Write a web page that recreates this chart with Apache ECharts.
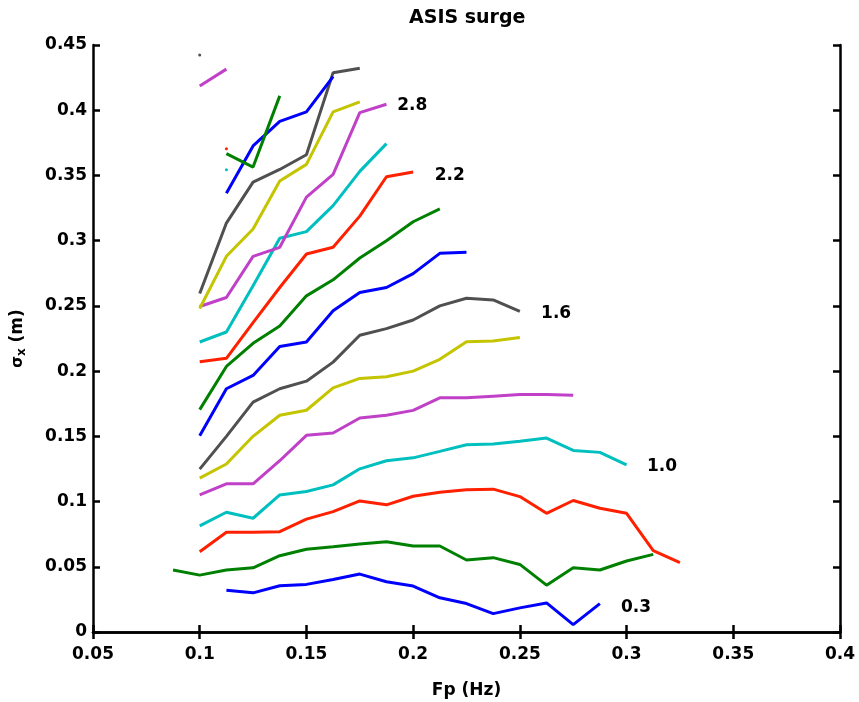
<!DOCTYPE html>
<html>
<head>
<meta charset="utf-8">
<script src="https://cdn.jsdelivr.net/npm/echarts@6/dist/echarts.min.js"></script>
<style>html,body{margin:0;padding:0;background:#fff;}#c{width:859px;height:702px;}</style>
</head>
<body>
<div id="c"></div>
<script>
// Frequency grid (Hz)
const fp = [0.0875,0.1,0.1125,0.125,0.1375,0.15,0.1625,0.175,0.1875,0.2,0.2125,0.225,0.2375,0.25,0.2625,0.275,0.2875,0.3,0.3125,0.325];

// sigma_x values (m), aligned with fp (null = no value)
const s01 = [null,null,0.032,0.030,0.0354,0.0365,0.0403,0.0444,0.0385,0.0352,0.0262,0.0218,0.0141,0.0185,0.0223,0.0057,0.0218];
const s02 = [0.0475,0.0436,0.0475,0.0492,0.0585,0.0634,0.0654,0.0675,0.0692,0.0659,0.0659,0.0552,0.057,0.0518,0.0359,0.0492,0.0475,0.0544,0.0595];
const s03 = [null,0.0615,0.0765,0.0765,0.0769,0.0865,0.0923,0.1005,0.0975,0.1041,0.1072,0.109,0.1095,0.1038,0.091,0.1008,0.0949,0.091,0.0623,0.0531];
const s04 = [null,0.0813,0.0918,0.0872,0.1051,0.1077,0.1128,0.1251,0.1313,0.1335,0.1385,0.1436,0.1441,0.1462,0.1487,0.1392,0.1377,0.1282];
const s05 = [null,0.1051,0.1136,0.1136,0.1313,0.1508,0.1526,0.1641,0.1662,0.1699,0.1795,0.1795,0.1808,0.1821,0.1821,0.1815];
const s06 = [null,0.118,0.1288,0.15,0.1662,0.17,0.1872,0.1944,0.1957,0.2,0.209,0.2226,0.2231,0.2257];
const s07 = [null,0.1249,0.15,0.1762,0.1865,0.1923,0.2069,0.2275,0.2326,0.2392,0.25,0.2559,0.2546,0.2457];
const s08 = [null,0.1505,0.1865,0.1967,0.2188,0.2223,0.2462,0.2603,0.2641,0.2747,0.2903,0.2911];
const s09 = [null,0.1705,0.2036,0.2213,0.2346,0.2577,0.27,0.2867,0.3,0.3145,0.3244];
const s10 = [null,0.2072,0.2098,0.2372,0.2641,0.2898,0.2949,0.3188,0.349,0.3526];
const s11 = [null,0.2223,0.23,0.2654,0.3018,0.3069,0.3269,0.3531,0.3744];
const s12 = [null,0.2495,0.2564,0.288,0.2949,0.3334,0.3508,0.3982,0.4046];
const s13 = [null,0.248,0.288,0.309,0.3457,0.3585,0.3987,0.4064];
const s14 = [null,0.2595,0.3135,0.3449,0.3546,0.3659,0.4288,0.4321];
const s15 = [null,null,0.3364,0.3726,0.3915,0.3987,0.4257];
const s16 = [null,null,0.3667,0.3564,0.411];
const s17 = [null,null,0.3705];
const s18 = [null,null,0.3544];
const s19 = [null,0.4185,0.4315];
const s20 = [];
const s21 = [null,0.4423];

const seriesValues = [s01,s02,s03,s04,s05,s06,s07,s08,s09,s10,s11,s12,s13,s14,s15,s16,s17,s18,s19,s20,s21];

// Curve labels
const labelText = ['0.3','1.0','1.6','2.2','2.8'];
const labelX = [0.3044,0.3166,0.2670,0.2172,0.1996];
const labelY = [0.019,0.127,0.2444,0.350,0.4038];

// Axis ticks
const xTicks = {min:0.05, max:0.4, step:0.05};
const yTicks = {min:0, max:0.45, step:0.05};

const palette = ['#0000FF','#008000','#FF2000','#00BFBF','#C040C8','#C4C400','#505050'];
const FONT = 'DejaVu Sans';

const series = seriesValues.map((vals, i) => {
  const data = [];
  vals.forEach((v, j) => { if (v !== null && v !== undefined) data.push([fp[j], v]); });
  const single = data.length === 1;
  return {
    type: 'line',
    data: data,
    showSymbol: single,
    symbol: 'circle',
    symbolSize: 3,
    silent: true,
    animation: false,
    lineStyle: {color: palette[i % 7], width: 3},
    itemStyle: {color: palette[i % 7], borderWidth: 0}
  };
});

series.push({
  type: 'scatter',
  symbolSize: 0,
  silent: true,
  animation: false,
  itemStyle: {opacity: 1, color: '#000'},
  data: labelText.map((t, i) => ({value: [labelX[i], labelY[i]], name: t})),
  label: {
    show: true,
    position: 'inside',
    formatter: p => p.name,
    color: '#000',
    opacity: 1,
    textBorderWidth: 0,
    fontFamily: FONT,
    fontWeight: 'bold',
    fontSize: 17
  }
});

const axisCommon = {
  axisLine: {show: true, lineStyle: {color: '#000', width: 2.5}},
  axisTick: {show: true, inside: true, length: 7, lineStyle: {color: '#000', width: 2.5}},
  splitLine: {show: false}
};

const option = {
  backgroundColor: '#fff',
  animation: false,
  title: {
    text: 'ASIS surge',
    left: 404,
    top: 4,
    textStyle: {fontFamily: FONT, fontWeight: 'bold', fontSize: 19, color: '#000'}
  },
  grid: {left: 93, right: 19, top: 45, bottom: 70, containLabel: false, outerBoundsMode: 'none'},
  xAxis: [
    Object.assign({
      type: 'value', position: 'bottom',
      min: xTicks.min, max: xTicks.max, interval: xTicks.step,
      name: 'Fp (Hz)', nameLocation: 'middle', nameGap: 50,
      nameTextStyle: {fontFamily: FONT, fontWeight: 'bold', fontSize: 17, color: '#000'},
      axisLabel: {fontFamily: FONT, fontWeight: 'bold', fontSize: 17, color: '#000', margin: 14}
    }, axisCommon),
    Object.assign({
      type: 'value', position: 'top',
      min: xTicks.min, max: xTicks.max, interval: xTicks.step,
      axisLabel: {show: false}
    }, axisCommon)
  ],
  yAxis: [
    Object.assign({
      type: 'value', position: 'left',
      min: yTicks.min, max: yTicks.max, interval: yTicks.step,
      name: '{s|σ}{sub|x}{n| (m)}', nameLocation: 'middle', nameGap: 65,
      nameTextStyle: {
        fontFamily: FONT, fontWeight: 'bold', fontSize: 17, color: '#000',
        rich: {
          s: {fontFamily: FONT, fontSize: 15, color: '#000'},
          sub: {fontFamily: FONT, fontWeight: 'bold', fontSize: 12, color: '#000', verticalAlign: 'bottom', padding: [8, 0, 0, 0]},
          n: {fontFamily: FONT, fontWeight: 'bold', fontSize: 17, color: '#000'}
        }
      },
      axisLabel: {fontFamily: FONT, fontWeight: 'bold', fontSize: 17, color: '#000', margin: 6}
    }, axisCommon),
    Object.assign({
      type: 'value', position: 'right',
      min: yTicks.min, max: yTicks.max, interval: yTicks.step,
      axisLabel: {show: false}
    }, axisCommon)
  ],
  series: series
};

const chart = echarts.init(document.getElementById('c'), null, {renderer: 'canvas'});
chart.setOption(option);
</script>
</body>
</html>
